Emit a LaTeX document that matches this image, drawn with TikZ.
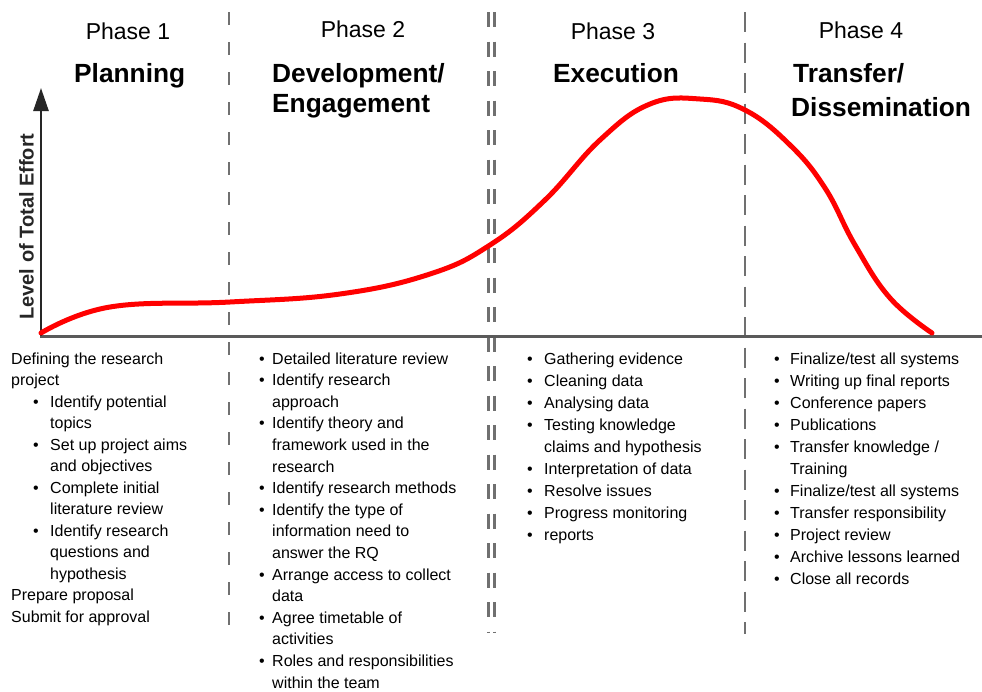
\documentclass[tikz,border=0pt]{standalone}
\usepackage{fontspec}
\setmainfont{Liberation Sans}
\usetikzlibrary{arrows.meta}
\definecolor{dashgray}{HTML}{707070}
\definecolor{basegray}{HTML}{5A5A5A}
\definecolor{effortred}{HTML}{FF0000}
\begin{document}
\begin{tikzpicture}[x=1pt,y=-1pt,
  body/.style={inner sep=0pt, font=\fontsize{16}{19}\selectfont, anchor=base west},
  phase/.style={inner sep=0pt, font=\fontsize{23}{27}\selectfont, anchor=base},
  ptitle/.style={inner sep=0pt, font=\fontsize{26.3}{30}\selectfont\bfseries, anchor=base west},
  divider/.style={dashgray, line width=2.6pt},
  effort/.style={effortred, line width=5pt, line cap=round, line join=round},
]
\useasboundingbox[fill=white] (0,0) rectangle (982,691);

% phase dividers
\coordinate (d1t) at (229,12);   \coordinate (d1b) at (229,630);
\coordinate (d2at) at (488.5,12); \coordinate (d2ab) at (488.5,632);
\coordinate (d2bt) at (494.5,12); \coordinate (d2bb) at (494.5,632);
\coordinate (d3t) at (745,12);   \coordinate (d3b) at (745,634);
\draw[divider, dash pattern=on 12.5pt off 17.5pt] (d1t) -- (d1b);
\draw[divider, line width=2.4pt, dash pattern=on 15pt off 14.5pt] (d2at) -- (d2ab);
\draw[divider, line width=2.4pt, dash pattern=on 15pt off 14.5pt] (d2bt) -- (d2bb);
\draw[divider, dash pattern=on 20pt off 10.5pt] (d3t) -- (d3b);

% axes
\coordinate (bl) at (40,336); \coordinate (br) at (982,336);
\draw[basegray, line width=3pt] (bl) -- (br);
\coordinate (o) at (41,336); \coordinate (ytop) at (41,88);
\draw[black!85, line width=2.6pt, -{Triangle[length=23pt,width=15pt]}] (o) -- (ytop);
\node[inner sep=0pt, anchor=base, rotate=90, font=\fontsize{20}{24}\selectfont\bfseries, text=black!85] (ylab) at (33.5,226.5) {Level of Total Effort};

% effort curve
\draw[effort] plot[smooth, tension=0.7] coordinates {
 (41,333) (110,307) (230,302) (340,294) (430,274) (490,245) (545,200)
 (600,140) (650,104) (700,99) (745,110) (790,145) (825,188) (855,245)
 (890,298) (932,333)};

% headings
\node[phase] (p1) at (128,39) {Phase 1};
\node[phase] (p2) at (363,37) {Phase 2};
\node[phase] (p3) at (613,39) {Phase 3};
\node[phase] (p4) at (861,38) {Phase 4};
\node[ptitle] (t1) at (74,82) {Planning};
\node[ptitle] (t2a) at (272,82) {Development/};
\node[ptitle] (t2b) at (272,112) {Engagement};
\node[ptitle] (t3) at (553,82) {Execution};
\node[ptitle] (t4a) at (793,82) {Transfer/};
\node[ptitle] (t4b) at (791,116) {Dissemination};

% column 1
\foreach \x/\b/\t [count=\i from 0] in {
  11/0/Defining the research, 11/0/project,
  50/1/Identify potential, 50/0/topics,
  50/1/Set up project aims, 50/0/and objectives,
  50/1/Complete initial, 50/0/literature review,
  50/1/Identify research, 50/0/questions and, 50/0/hypothesis,
  11/0/Prepare proposal, 11/0/Submit for approval} {
  \node[body] (c1l\i) at (\x,{364+21.5*\i}) {\t};
  \ifnum\b=1 \node[body] (c1b\i) at (33,{364+21.5*\i}) {\textbullet}; \fi
}

% column 2
\foreach \b/\t [count=\i from 0] in {
  1/Detailed literature review, 1/Identify research, 0/approach,
  1/Identify theory and, 0/framework used in the, 0/research,
  1/Identify research methods, 1/Identify the type of,
  0/information need to, 0/answer the RQ,
  1/Arrange access to collect, 0/data,
  1/Agree timetable of, 0/activities,
  1/Roles and responsibilities, 0/within the team} {
  \node[body] (c2l\i) at (272,{364+21.6*\i}) {\t};
  \ifnum\b=1 \node[body] (c2b\i) at (259,{364+21.6*\i}) {\textbullet}; \fi
}

% column 3
\foreach \b/\t [count=\i from 0] in {
  1/Gathering evidence, 1/Cleaning data, 1/Analysing data,
  1/Testing knowledge, 0/claims and hypothesis,
  1/Interpretation of data, 1/Resolve issues,
  1/Progress monitoring, 1/reports} {
  \node[body] (c3l\i) at (544,{364+22*\i}) {\t};
  \ifnum\b=1 \node[body] (c3b\i) at (527,{364+22*\i}) {\textbullet}; \fi
}

% column 4
\foreach \b/\t [count=\i from 0] in {
  1/{Finalize/test all systems}, 1/Writing up final reports,
  1/Conference papers, 1/Publications,
  1/{Transfer knowledge /}, 0/Training,
  1/{Finalize/test all systems}, 1/Transfer responsibility,
  1/Project review, 1/Archive lessons learned, 1/Close all records} {
  \node[body] (c4l\i) at (790,{364+22*\i}) {\t};
  \ifnum\b=1 \node[body] (c4b\i) at (774,{364+22*\i}) {\textbullet}; \fi
}
\end{tikzpicture}
\end{document}
